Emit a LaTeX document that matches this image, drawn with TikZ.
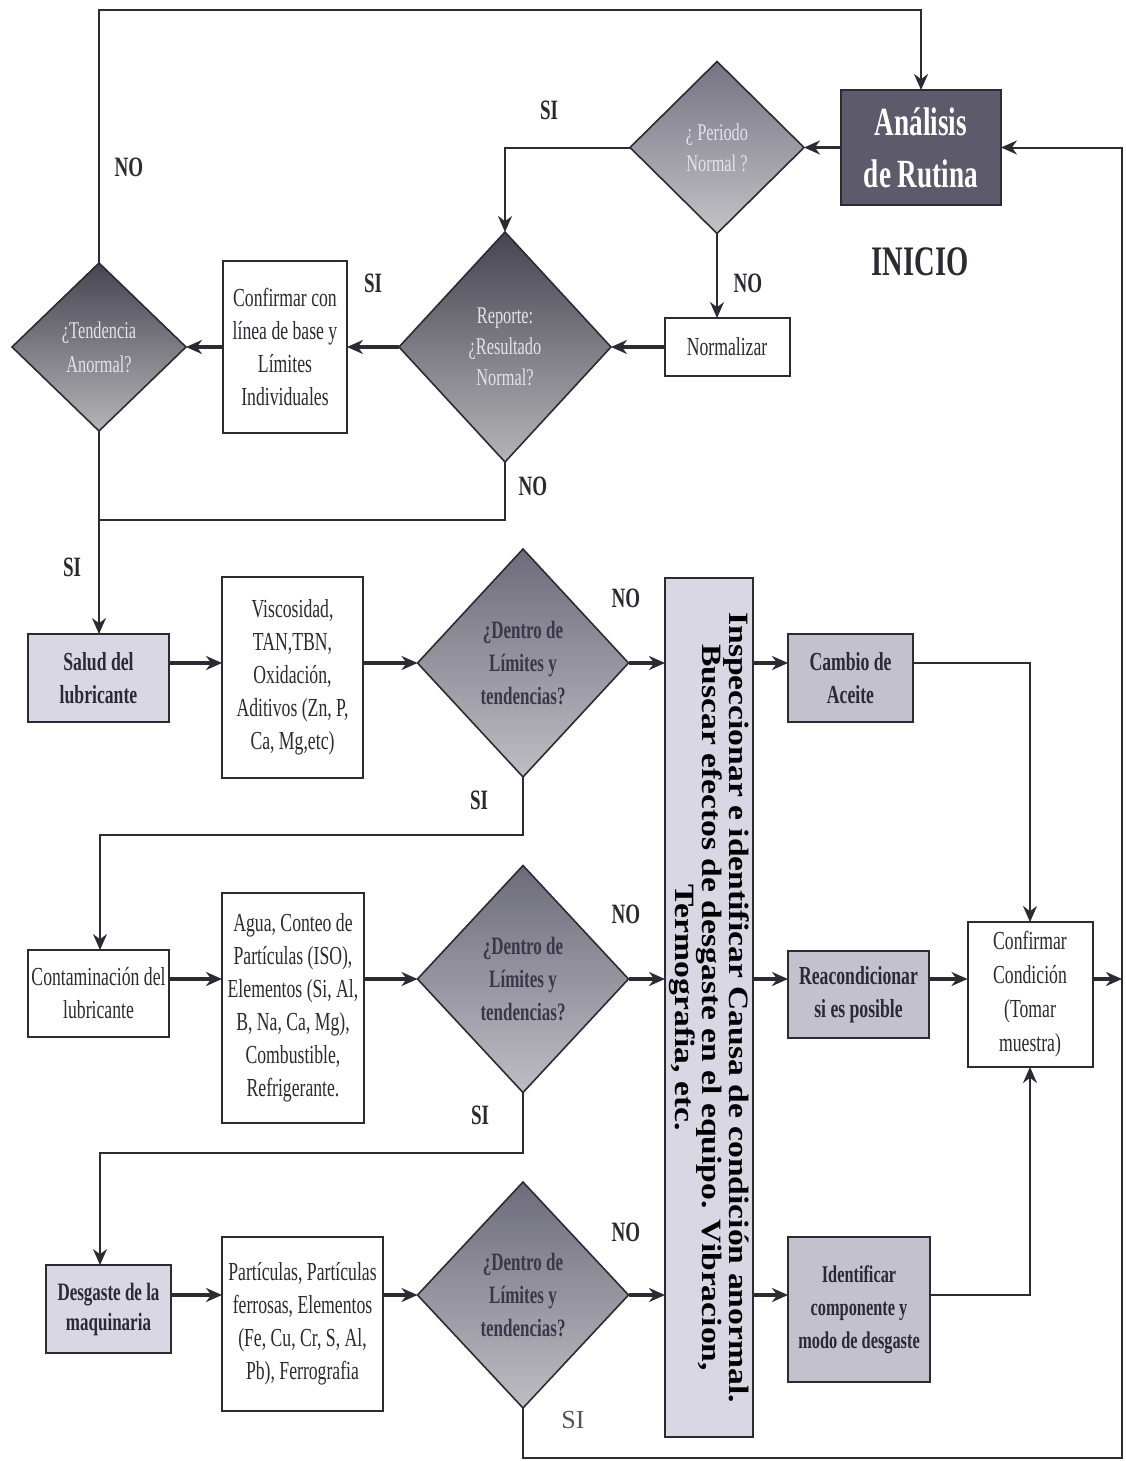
\documentclass[tikz,border=0pt]{standalone}
\usepackage{fontspec}
\setmainfont{Liberation Serif}
\newfontfamily\cond[FakeStretch=0.68]{Liberation Serif}
\newfontfamily\barf[FakeStretch=1.2]{Liberation Serif}
\usetikzlibrary{shapes.geometric,arrows.meta}
\definecolor{linec}{HTML}{2B2B33}
\definecolor{txt}{HTML}{2A2A32}
\definecolor{lav}{HTML}{DAD7E4}
\definecolor{midc}{HTML}{C3C1CE}
\definecolor{darkbox}{HTML}{5D5B6B}
\definecolor{diatxt}{HTML}{E2E2EA}
\definecolor{rowtxt}{HTML}{3A3848}
\newcommand\fsz[2]{\fontsize{#1}{#2}\selectfont}
\begin{document}
\begin{tikzpicture}[x=0.5pt,y=-0.5pt,
  every node/.style={inner sep=0pt, outer sep=0pt},
  wbox/.style={draw=linec, line width=1pt, fill=white, align=center, text=txt, font=\cond\fsz{13}{16.5}},
  lbox/.style={wbox, fill=lav, font=\cond\bfseries\fsz{13}{16.5}},
  mbox/.style={wbox, fill=midc, font=\cond\bfseries\fsz{13}{16.5}},
  dia/.style={diamond, draw=linec, line width=0.8pt},
  topdia/.style={dia, top color=#1, bottom color=#1!35!white!85!gray},
  rowdia/.style={dia, top color=darkbox!90!white, middle color=darkbox!65!white, bottom color=darkbox!40!white},
  dtext/.style={align=center, text=diatxt, font=\cond\fsz{12}{15.5}},
  rtext/.style={align=center, text=rowtxt, font=\cond\bfseries\fsz{12.5}{16.5}},
  ln/.style={draw=linec, line width=1pt},
  arr/.style={ln, -{Stealth[length=8pt,width=7pt]}},
  tarr/.style={arr, line width=1.6pt},
  lab/.style={font=\cond\bfseries\fsz{14}{16}, text=txt},
]
\useasboundingbox[fill=white] (0,0) rectangle (1125,1461);

% ---------- top part ----------
\node[draw=linec, line width=1pt, fill=darkbox, minimum width=80pt, minimum height=57.5pt,
      align=center, text=white, font=\cond\bfseries\fsz{20}{26}] (anal) at (921,147.5) {Análisis\\de Rutina};
\node[font=\cond\bfseries\fsz{21}{24}, text=txt] (inicio) at (920,262) {INICIO};

\node[topdia=darkbox!85!white, minimum width=87pt, minimum height=86pt] (per) at (717,147.5) {};
\node[dtext] (pert) at (per.center) {¿ Periodo\\Normal ?};

\node[wbox, minimum width=62.5pt, minimum height=29pt] (norm) at (727,347) {Normalizar};

\node[topdia=darkbox!75!black, minimum width=106pt, minimum height=115pt] (rep) at (505,347) {};
\node[dtext] (rept) at (rep.center) {Reporte:\\¿Resultado\\Normal?};

\node[wbox, minimum width=62pt, minimum height=86pt] (conf1) at (285,347) {Confirmar con\\línea de base y\\Límites\\Individuales};

\node[topdia=darkbox!75!black, minimum width=87pt, minimum height=84pt] (tend) at (99,347) {};
\node[dtext, font=\cond\fsz{12}{17}] (tendt) at (tend.center) {¿Tendencia\\Anormal?};

% ---------- rows ----------
\node[lbox, minimum width=70.5pt, minimum height=44pt] (salud) at (98.5,678) {Salud del\\lubricante};
\node[wbox, minimum width=70.5pt, minimum height=100.5pt] (visc) at (292.5,677.5) {Viscosidad,\\TAN,TBN,\\Oxidación,\\Aditivos (Zn, P,\\Ca, Mg,etc)};
\node[rowdia, minimum width=105.5pt, minimum height=114pt] (d1) at (523,663) {};
\node[rtext] (d1t) at (d1.center) {¿Dentro de\\Límites y\\tendencias?};

\node[wbox, minimum width=70.5pt, minimum height=43.5pt] (cont) at (98.5,993.5) {Contaminación del\\lubricante};
\node[wbox, minimum width=71pt, minimum height=115pt] (agua) at (293,1008) {Agua, Conteo de\\Partículas (ISO),\\Elementos (Si, Al,\\B, Na, Ca, Mg),\\Combustible,\\Refrigerante.};
\node[rowdia, minimum width=105.5pt, minimum height=113.5pt] (d2) at (523,979) {};
\node[rtext] (d2t) at (d2.center) {¿Dentro de\\Límites y\\tendencias?};

\node[lbox, font=\cond\bfseries\fsz{12.5}{15}, minimum width=62.5pt, minimum height=44pt] (desg) at (108.5,1309) {Desgaste de la\\maquinaria};
\node[wbox, minimum width=80.5pt, minimum height=87pt] (part) at (302.5,1324) {Partículas, Partículas\\ferrosas, Elementos\\(Fe, Cu, Cr, S, Al,\\Pb), Ferrografia};
\node[rowdia, minimum width=105.5pt, minimum height=113pt] (d3) at (523,1295) {};
\node[rtext] (d3t) at (d3.center) {¿Dentro de\\Límites y\\tendencias?};

% vertical bar
\node[draw=linec, line width=1.2pt, fill=lav, minimum width=44pt, minimum height=429.5pt] (bar) at (709,1007.5) {};
\node[rotate=-90, align=center, text=black, font=\barf\bfseries\fsz{14}{13.5}] (bart) at (bar.center)
  {Inspeccionar e identificar Causa de condición anormal.\\Buscar efectos de desgaste en el equipo. Vibracion,\\Termografia, etc.};

\node[mbox, minimum width=62.5pt, minimum height=44pt] (cambio) at (850.5,678) {Cambio de\\Aceite};
\node[mbox, minimum width=70.5pt, minimum height=43.5pt] (reac) at (858.5,994.5) {Reacondicionar\\si es posible};
\node[mbox, font=\cond\bfseries\fsz{12}{16.5}, minimum width=71pt, minimum height=72.5pt] (ident) at (859,1309.5) {Identificar\\componente y\\modo de desgaste};
\node[wbox, font=\cond\fsz{13}{17}, minimum width=62.5pt, minimum height=72.5pt] (conf2) at (1030,994.5) {Confirmar\\Condición\\(Tomar\\muestra)};

% ---------- coordinates ----------
\coordinate (tl) at (100,10);
\coordinate (j1) at (100,520);
\coordinate (j2) at (100,835);
\coordinate (j3) at (100,1153);
\coordinate (br) at (1122,1458);

% ---------- connectors ----------
\draw[arr, line width=1.3pt] (tend.north) -- (tend.north |- tl) -| (anal.north);
\draw[tarr] (anal.west) -- (per.east);
\draw[arr] (per.west) -| (rep.north);
\draw[arr] (per.south) -- (per.south |- norm.north);
\draw[tarr] (norm.west) -- (rep.east);
\draw[tarr] (rep.west) -- (conf1.east);
\draw[tarr] (conf1.west) -- (tend.east);
\draw[ln] (rep.south) |- (j1);
\draw[arr] (tend.south) -- (tend.south |- salud.north);

\draw[tarr] (salud.east |- d1) -- (visc.west |- d1);
\draw[tarr] (visc.east |- d1) -- (d1.west);
\draw[tarr] (d1.east) -- (bar.west |- d1);
\draw[tarr] (bar.east |- d1) -- (cambio.west |- d1);
\draw[arr] (cambio.east |- d1) -| (conf2.north);
\draw[arr] (d1.south) |- (j2) -- (j2 |- cont.north);

\draw[tarr] (cont.east |- d2) -- (agua.west |- d2);
\draw[tarr] (agua.east |- d2) -- (d2.west);
\draw[tarr] (d2.east) -- (bar.west |- d2);
\draw[tarr] (bar.east |- d2) -- (reac.west |- d2);
\draw[tarr] (reac.east |- d2) -- (conf2.west |- d2);
\draw[tarr] (conf2.east |- d2) -- (br |- d2);
\draw[arr] (d2.south) |- (j3) -- (j3 |- desg.north);

\draw[tarr] (desg.east |- d3) -- (part.west |- d3);
\draw[tarr] (part.east |- d3) -- (d3.west);
\draw[tarr] (d3.east) -- (bar.west |- d3);
\draw[tarr] (bar.east |- d3) -- (ident.west |- d3);
\draw[arr] (ident.east |- d3) -| (conf2.south);
\draw[arr] (d3.south) |- (br) |- (anal.east);

% ---------- labels ----------
\node[lab] (l1) at (129,167) {NO};
\node[lab] (l2) at (549,110) {SI};
\node[lab] (l3) at (748,283) {NO};
\node[lab] (l4) at (373,283) {SI};
\node[lab] (l5) at (533,486) {NO};
\node[lab] (l6) at (72,567) {SI};
\node[lab] (l7) at (626,598) {NO};
\node[lab] (l8) at (479,800) {SI};
\node[lab] (l9) at (626,914) {NO};
\node[lab] (l10) at (480,1115) {SI};
\node[lab] (l11) at (626,1232) {NO};
\node[font=\fsz{13}{15}, text=txt!80!white] (l12) at (573,1420) {SI};
\end{tikzpicture}
\end{document}
